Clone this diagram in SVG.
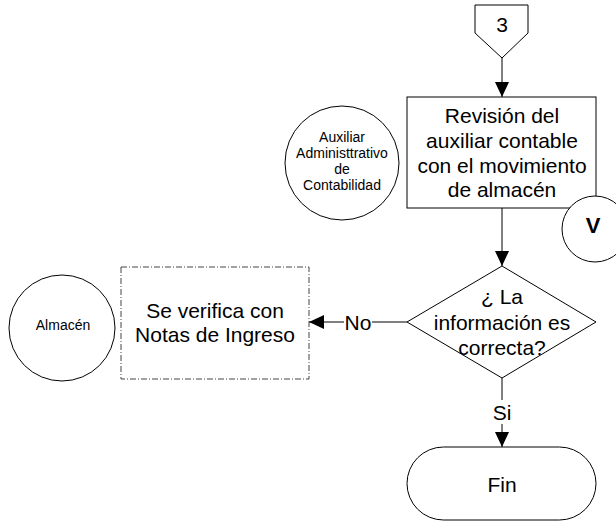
<svg xmlns="http://www.w3.org/2000/svg" width="616" height="523" viewBox="0 0 616 523">
<defs>
<style>
.s{fill:#fff;stroke:#000;stroke-width:1}
.t{font-family:"Liberation Sans",Arial,sans-serif;font-size:21px;fill:#000;text-anchor:middle}
.sm{font-family:"Liberation Sans",Arial,sans-serif;font-size:14px;fill:#000;text-anchor:middle}
.ln{fill:none;stroke:#000;stroke-width:1}
.dash{fill:#fff;stroke:#444;stroke-width:1;stroke-dasharray:6 2 1 2}
</style>
<marker id="ah" markerWidth="15" markerHeight="14" refX="15" refY="7" orient="auto" markerUnits="userSpaceOnUse">
<path d="M0,0 L15,7 L0,14 Z" fill="#000"/>
</marker>
</defs>
<rect width="616" height="523" fill="#fff"/>
<g id="connectors">
<line class="ln" x1="502" y1="58" x2="502" y2="97" marker-end="url(#ah)"/>
<line class="ln" x1="502" y1="208" x2="502" y2="266" marker-end="url(#ah)"/>
<line class="ln" x1="407" y1="322" x2="309" y2="322" marker-end="url(#ah)"/>
<rect x="344" y="312" width="28" height="22" fill="#fff"/>
<text class="t" x="358" y="330">No</text>
<line class="ln" x1="502" y1="378" x2="502" y2="447" marker-end="url(#ah)"/>
<rect x="491" y="400" width="22" height="24" fill="#fff"/>
<text class="t" x="502" y="420">Si</text>
</g>
<g id="offpage3">
<path class="s" d="M475,5 H528 V33 L502,58 L475,33 Z"/>
<text class="t" x="502" y="32">3</text>
</g>
<g id="revision">
<rect class="s" x="407" y="97" width="189" height="111"/>
<text class="t" x="502" y="123">Revisión del</text>
<text class="t" x="502" y="148">auxiliar contable</text>
<text class="t" x="502" y="173">con el movimiento</text>
<text class="t" x="502" y="197">de almacén</text>
</g>
<g id="circleV">
<circle class="s" cx="595" cy="229" r="33"/>
<text class="t" x="593" y="233" style="font-weight:bold;font-size:22px">V</text>
</g>
<g id="auxiliar">
<circle class="s" cx="342" cy="163" r="57"/>
<text class="sm" x="342" y="142">Auxiliar</text>
<text class="sm" x="342" y="158">Administtrativo</text>
<text class="sm" x="342" y="174">de</text>
<text class="sm" x="342" y="190">Contabilidad</text>
</g>
<g id="decision">
<path class="s" d="M502,266 L596,322 L502,378 L407,322 Z"/>
<text class="t" x="502" y="304">¿ La</text>
<text class="t" x="502" y="330">información es</text>
<text class="t" x="502" y="355">correcta?</text>
</g>
<g id="verifica">
<rect class="dash" x="121" y="267" width="188" height="112"/>
<text class="t" x="215" y="318">Se verifica con</text>
<text class="t" x="215" y="342">Notas de Ingreso</text>
</g>
<g id="almacen">
<circle class="s" cx="62" cy="328" r="53"/>
<text class="sm" x="63" y="330">Almacén</text>
</g>
<g id="fin">
<rect class="s" x="407" y="447" width="189" height="73" rx="36.5" ry="36.5"/>
<text class="t" x="502" y="492">Fin</text>
</g>
</svg>
